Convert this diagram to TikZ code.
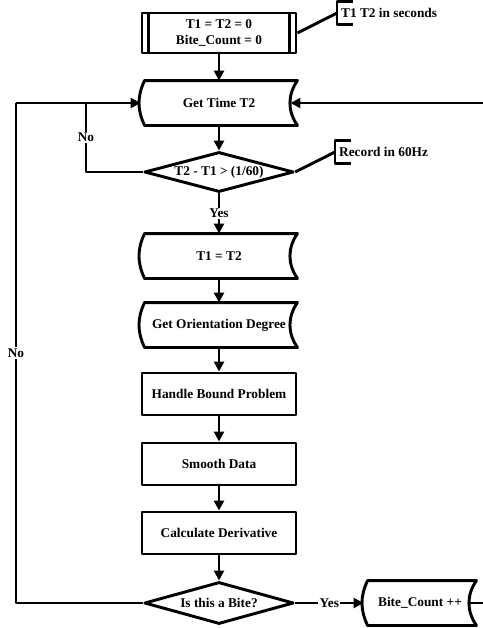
\documentclass[tikz,border=0pt]{standalone}
\usepackage{fontspec}
\setmainfont{Liberation Serif}
\usetikzlibrary{shapes.geometric,arrows.meta}

\begin{document}
\begin{tikzpicture}[x=0.75pt,y=-0.75pt,inner sep=1pt,line width=2.2pt,line join=round,
  font=\fontsize{10}{12.5}\selectfont\bfseries,>={Triangle[length=7.5pt,width=7.5pt]}]
\tikzstyle{initbox}=[draw,minimum width=115.5pt,minimum height=30pt,align=center]
\tikzstyle{store}=[minimum width=115.5pt,minimum height=31.5pt]
\tikzstyle{proc}=[draw,minimum width=115.5pt,minimum height=31.5pt]
\tikzstyle{decide}=[draw,diamond,shape aspect=3.7,inner sep=0pt,minimum width=112pt,minimum height=30pt]
\tikzstyle{note}=[minimum height=15pt,inner sep=2pt,anchor=west]
\tikzstyle{lbl}=[fill=white,inner sep=1pt]
\useasboundingbox (0,0) rectangle (482,628);
% main column
\node at (219,33) (init)[initbox] {T1 = T2 = 0\\Bite\_Count = 0};
\node at (219,103) (gett2)[store] {Get Time T2};
\node at (219,172) (check)[decide] {T2 - T1 > (1/60)};
\node at (219,256) (t1t2)[store] {T1 = T2};
\node at (219,325) (orient)[store] {Get Orientation Degree};
\node at (219,394) (bound)[proc] {Handle Bound Problem};
\node at (219,464) (smooth)[proc] {Smooth Data};
\node at (219,533) (deriv)[proc] {Calculate Derivative};
\node at (219,603) (bite)[decide,minimum height=31.5pt] {Is this a Bite?};
\node at (420,603) (bitecnt)[store,minimum width=82.5pt] {Bite\_Count ++};
% notes
\node at (337,13) (note1)[note] {T1 T2 in seconds};
\node at (335,152) (note2)[note] {Record in 60Hz};
% shape outlines
\draw ([xshift=6pt]init.north west) -- ([xshift=6pt]init.south west);
\draw ([xshift=-6pt]init.north east) -- ([xshift=-6pt]init.south east);
\foreach \n in {gett2,t1t2,orient,bitecnt}
  \draw ([xshift=3pt]\n.north west) -- (\n.north east)
    to [out=235,in=125] (\n.south east)
    -- ([xshift=3pt]\n.south west)
    to [out=115,in=245] ([xshift=3pt]\n.north west) -- cycle;
\foreach \n in {note1,note2}
  \draw ([xshift=12pt]\n.north west) -- (\n.north west) -- (\n.south west) -- ([xshift=12pt]\n.south west);
% loop corners
\coordinate (noturn) at (86,103);
\coordinate (leftup) at (16,103);
\coordinate (rightdn) at (484,603);
\coordinate (rightup) at (484,103);
% connectors
\draw (init.east) to (note1.west);
\draw (check.east) to (note2.west);
\draw [->] (init) to (gett2);
\draw [->] (gett2) to (check);
\draw [->] (check) to node[lbl]{Yes} (t1t2);
\draw [->] (t1t2) to (orient);
\draw [->] (orient) to (bound);
\draw [->] (bound) to (smooth);
\draw [->] (smooth) to (deriv);
\draw [->] (deriv) to (bite);
\draw (check.west) -| node[lbl,pos=0.75]{No} (noturn);
\draw (bite.west) -| node[lbl,pos=0.75]{No} (leftup);
\draw [->] (leftup) to (gett2.west);
\draw [->] (bite.east) to node[lbl]{Yes} (bitecnt.west);
\draw ([xshift=-5.25pt]bitecnt.east) -- (rightdn) -- (rightup);
\draw [->] (rightup) to ([xshift=-5.25pt]gett2.east);
\end{tikzpicture}
\end{document}
